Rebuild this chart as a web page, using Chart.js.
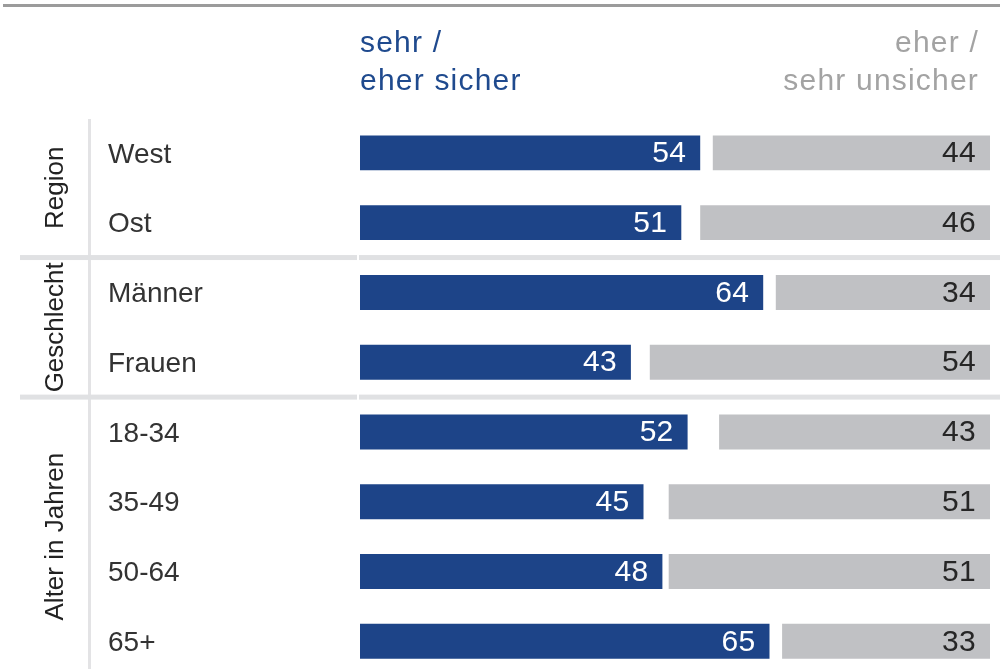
<!DOCTYPE html>
<html lang="de">
<head>
<meta charset="utf-8">
<title>sicher / unsicher</title>
<script src="https://cdn.jsdelivr.net/npm/chart.js@4/dist/chart.umd.min.js"></script>
<style>
  html, body { margin: 0; padding: 0; background: #fff; overflow: hidden; }
  #wrap { width: 1005px; height: 693px; }
</style>
</head>
<body>
<div id="wrap"><canvas id="chart" width="1005" height="693"></canvas></div>
<script>
// values (percent)
const categories = ["West", "Ost", "Männer", "Frauen", "18-34", "35-49", "50-64", "65+"];
const sicher = [54, 51, 64, 43, 52, 45, 48, 65];
const unsicher = [44, 46, 34, 54, 43, 51, 51, 33];

const groupNames = ["Region", "Geschlecht", "Alter in Jahren"];
const groupStart = [0, 2, 4]; // first category index of each group

const headLeft = ["sehr /", "eher sicher"];
const headRight = ["eher /", "sehr unsicher"];

const BLUE = "#1d4488";
const GREY = "#c0c1c4";
const FONT = "'Liberation Sans', Arial, sans-serif";

// grey bars run from the right edge (100) back by their value
const unsicherRange = unsicher.map(v => [100 - v, 100]);

const decorPlugin = {
  id: "decor",
  beforeDraw(chart) {
    const ctx = chart.ctx;
    const y = chart.scales.y;
    const w = chart.width;
    ctx.save();

    // top rule
    ctx.fillStyle = "#9b9b9b";
    ctx.fillRect(3, 4, w - 8, 3);

    // vertical divider next to the group labels
    ctx.fillStyle = "#e3e3e5";
    ctx.fillRect(88, 119, 3, chart.height - 119);

    // separators between groups
    ctx.fillStyle = "#e0e1e3";
    for (let g = 1; g < groupStart.length; g++) {
      const i = groupStart[g];
      const sy = (y.getPixelForTick(i - 1) + y.getPixelForTick(i)) / 2;
      ctx.fillRect(20, sy - 2.5, 337, 5);
      ctx.fillRect(359, sy - 2.5, w - 5 - 359, 5);
    }

    // header
    ctx.font = "30px " + FONT;
    ctx.letterSpacing = "1.2px";
    ctx.textBaseline = "alphabetic";
    ctx.fillStyle = "#1f4a8e";
    ctx.textAlign = "left";
    ctx.fillText(headLeft[0], chart.chartArea.left, 52);
    ctx.fillText(headLeft[1], chart.chartArea.left, 90);
    ctx.fillStyle = "#a3a3a3";
    ctx.textAlign = "right";
    ctx.fillText(headRight[0], chart.chartArea.right - 11, 52);
    ctx.fillText(headRight[1], chart.chartArea.right - 11, 90);
    ctx.letterSpacing = "0px";

    // rotated group labels
    ctx.font = "26px " + FONT;
    ctx.fillStyle = "#222";
    ctx.textAlign = "center";
    ctx.textBaseline = "middle";
    for (let g = 0; g < groupNames.length; g++) {
      const first = groupStart[g];
      const last = g + 1 < groupStart.length ? groupStart[g + 1] - 1 : categories.length - 1;
      const half = (y.getPixelForTick(1) - y.getPixelForTick(0)) / 2;
      const top = y.getPixelForTick(first) - half;
      const bottom = y.getPixelForTick(last) + half;
      ctx.save();
      ctx.translate(56, (top + bottom) / 2);
      ctx.rotate(-Math.PI / 2);
      ctx.fillText(groupNames[g], 0, 0);
      ctx.restore();
    }
    ctx.restore();
  },
  afterDatasetsDraw(chart) {
    const ctx = chart.ctx;
    ctx.save();
    ctx.font = "30px " + FONT;
    ctx.letterSpacing = "0.3px";
    ctx.textAlign = "right";
    ctx.textBaseline = "middle";
    const blueBars = chart.getDatasetMeta(0).data;
    const greyBars = chart.getDatasetMeta(1).data;
    blueBars.forEach((bar, i) => {
      ctx.fillStyle = "#fff";
      ctx.fillText(String(sicher[i]), bar.x - 14, bar.y + 1);
    });
    greyBars.forEach((bar, i) => {
      ctx.fillStyle = "#262626";
      ctx.fillText(String(unsicher[i]), bar.x - 14, bar.y + 1);
    });
    ctx.restore();
  }
};

new Chart(document.getElementById("chart").getContext("2d"), {
  type: "bar",
  data: {
    labels: categories,
    datasets: [
      { label: "sehr / eher sicher", data: sicher, backgroundColor: BLUE },
      { label: "eher / sehr unsicher", data: unsicherRange, backgroundColor: GREY },
    ],
  },
  options: {
    indexAxis: "y",
    responsive: false,
    animation: false,
    grouped: false,
    barPercentage: 0.5,
    categoryPercentage: 1,
    layout: { padding: { top: 118, left: 108, right: 15, bottom: 0 } },
    plugins: {
      legend: { display: false },
      tooltip: { enabled: false },
      title: { display: false },
    },
    scales: {
      x: { display: false, min: 0, max: 100 },
      y: {
        grid: { display: false },
        border: { display: false },
        ticks: {
          crossAlign: "far",
          padding: 0,
          labelOffset: 2,
          color: "#333",
          font: { size: 28, family: FONT },
        },
        afterFit(scale) { scale.width = 252; },
      },
    },
  },
  plugins: [decorPlugin],
});
</script>
</body>
</html>
